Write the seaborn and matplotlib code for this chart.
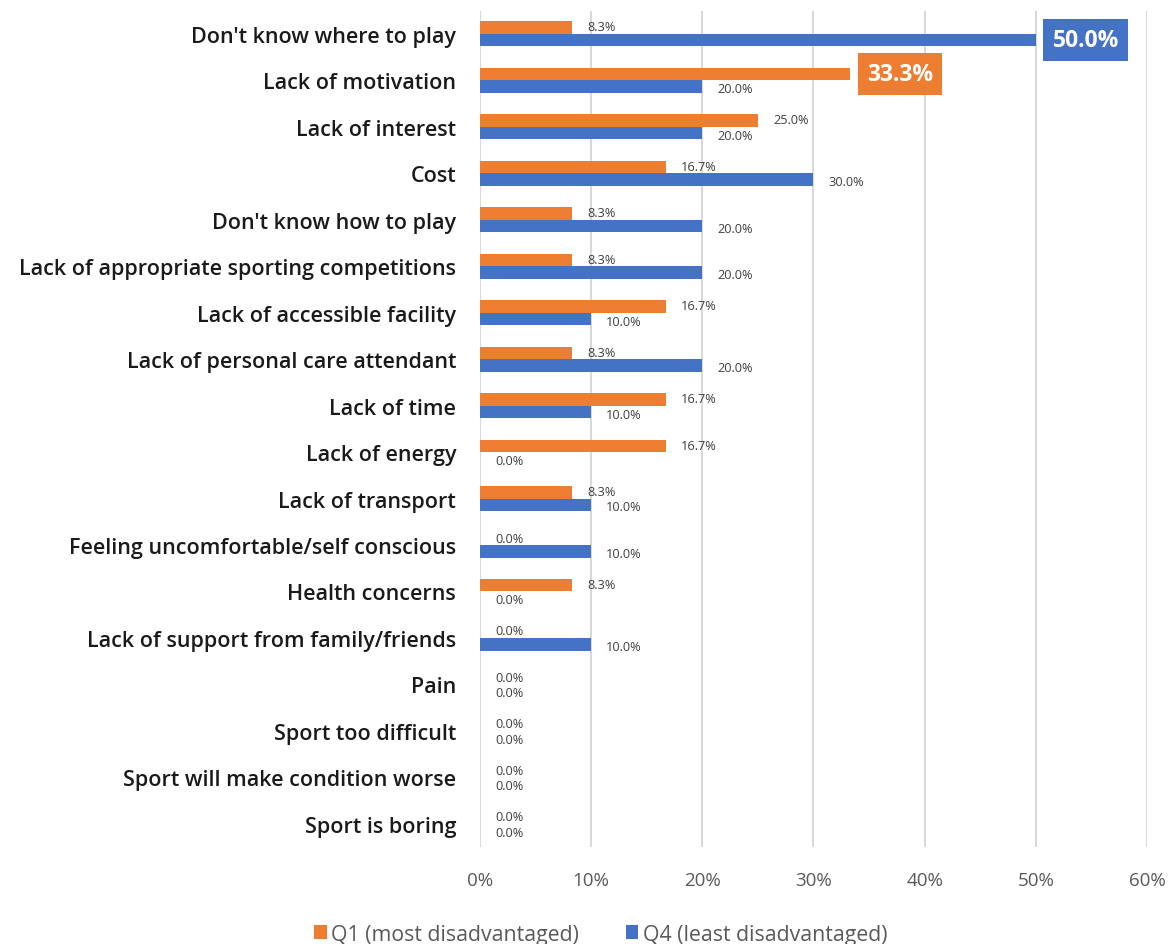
import matplotlib
matplotlib.use("Agg")
import matplotlib.pyplot as plt
import seaborn as sns
import pandas as pd
from matplotlib.patches import Patch

categories = [
    "Don't know where to play",
    "Lack of motivation",
    "Lack of interest",
    "Cost",
    "Don't know how to play",
    "Lack of appropriate sporting competitions",
    "Lack of accessible facility",
    "Lack of personal care attendant",
    "Lack of time",
    "Lack of energy",
    "Lack of transport",
    "Feeling uncomfortable/self conscious",
    "Health concerns",
    "Lack of support from family/friends",
    "Pain",
    "Sport too difficult",
    "Sport will make condition worse",
    "Sport is boring",
]
q1_values = [8.3, 33.3, 25.0, 16.7, 8.3, 8.3, 16.7, 8.3, 16.7, 16.7,
             8.3, 0.0, 8.3, 0.0, 0.0, 0.0, 0.0, 0.0]
q4_values = [50.0, 20.0, 20.0, 30.0, 20.0, 20.0, 10.0, 20.0, 10.0, 0.0,
             10.0, 10.0, 0.0, 10.0, 0.0, 0.0, 0.0, 0.0]
series_names = ["Q1 (most disadvantaged)", "Q4 (least disadvantaged)"]
series_colors = ["#ED7D31", "#4472C4"]
x_ticks = [0, 10, 20, 30, 40, 50, 60]

sns.set_theme(style="white")
plt.rcParams["font.family"] = ["Open Sans", "DejaVu Sans"]

df = pd.DataFrame({
    "category": categories * 2,
    "value": q1_values + q4_values,
    "group": [series_names[0]] * len(categories) + [series_names[1]] * len(categories),
})

fig = plt.figure(figsize=(11.73, 9.45), dpi=100)
ax = fig.add_axes([0.409, 0.1026, 0.569, 0.885])

sns.barplot(
    data=df, y="category", x="value", hue="group",
    order=categories, hue_order=series_names,
    palette=series_colors, orient="h", width=0.54,
    saturation=1, errorbar=None, legend=False, linewidth=0, ax=ax,
)

ax.set_xlim(0, 60)
ax.set_ylim(len(categories) - 0.5, -0.5)
ax.set_xticks(x_ticks)
ax.set_xticklabels([f"{t}%" for t in x_ticks], fontsize=13.5, color="#595959")
ax.tick_params(axis="x", length=0, pad=17)
ax.tick_params(axis="y", length=0, pad=17)
for lab in ax.get_yticklabels():
    lab.set_fontsize(15.5)
    lab.set_fontweight("semibold")
    lab.set_color("#1a1a1a")
ax.set_xlabel("")
ax.set_ylabel("")
for s in ax.spines.values():
    s.set_visible(False)
ax.grid(axis="x", color="#D9D9D9", linewidth=1.5)
ax.set_axisbelow(True)

# value labels; the largest value of each series gets a filled callout
label_dy = [0.5, -1.5]
for cont, vals, col, dy in zip(ax.containers, [q1_values, q4_values],
                               series_colors, label_dy):
    vmax = max(vals)
    for bar, v in zip(cont, vals):
        yc = bar.get_y() + bar.get_height() / 2
        txt = f"{v:.1f}%"
        if v == vmax:
            ax.annotate(txt, (v, yc), xytext=(12, 0), textcoords="offset points",
                        ha="left", va="center", fontsize=16.5, fontweight="bold",
                        color="white",
                        bbox=dict(boxstyle="square,pad=0.4", fc=col, ec="none"))
        else:
            ax.annotate(txt, (v, yc), xytext=(11, dy), textcoords="offset points",
                        ha="left", va="center", fontsize=9.2, color="#404040")

handles = [Patch(facecolor=c, edgecolor="none") for c in series_colors]
fig.legend(handles, series_names, loc="center", bbox_to_anchor=(0.512, 0.0105),
           ncol=2, frameon=False, fontsize=15.3, labelcolor="#595959",
           handlelength=0.6, handleheight=0.6, handletextpad=0.2, columnspacing=2.2)

fig.savefig("out.png", dpi=100)
